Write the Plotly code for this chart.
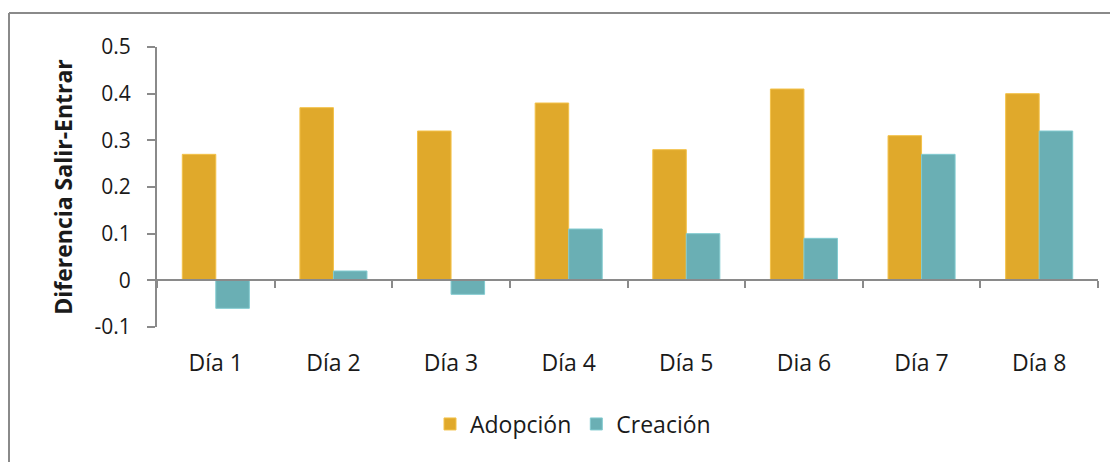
import plotly.graph_objects as go

categories = ["Día 1", "Día 2", "Día 3", "Día 4", "Día 5", "Dia 6", "Día 7", "Día 8"]
adopcion = [0.27, 0.37, 0.32, 0.38, 0.28, 0.41, 0.31, 0.40]
creacion = [-0.06, 0.02, -0.03, 0.11, 0.10, 0.09, 0.27, 0.32]
y_tickvals = [-0.1, 0, 0.1, 0.2, 0.3, 0.4, 0.5]
y_ticktext = ["-0.1", "0", "0.1", "0.2", "0.3", "0.4", "0.5"]

FONT = "Open Sans"
AXIS = "#8a8a8a"

fig = go.Figure()
fig.add_trace(go.Bar(
    x=categories, y=adopcion, name="Adopción",
    marker=dict(color="#E0A92B", line=dict(color="#F3C24A", width=1)),
))
fig.add_trace(go.Bar(
    x=categories, y=creacion, name="Creación",
    marker=dict(color="#6AAFB4", line=dict(color="#82CBD0", width=1)),
))

# page body has an 8px margin: figure coordinates are window coordinates minus 8
OFF = 8
W, H = 1118 - OFF, 462 - OFF
L, R, T, B = 157 - OFF, 20, 47 - OFF, 462 - 327
pw, ph = W - L - R, H - T - B

def px(xw):
    return (xw - OFF - L) / pw

def py(yw):
    return (H - B - (yw - OFF)) / ph

fig.update_layout(
    width=W, height=H,
    margin=dict(l=L, r=R, t=T, b=B, autoexpand=False),
    paper_bgcolor="white", plot_bgcolor="white",
    font=dict(family=FONT, size=22, color="#1a1a1a"),
    barmode="group", bargap=0.43, bargroupgap=0,
    showlegend=True,
    legend=dict(orientation="h", x=px(430), xanchor="left", y=py(424), yanchor="middle",
                font=dict(size=23, family=FONT), itemwidth=30, traceorder="normal"),
    xaxis=dict(
        type="category", range=[-0.5, 7.5], anchor="free", position=1/6,
        showline=True, linecolor=AXIS, linewidth=2,
        ticks="outside", tickson="boundaries", ticklen=7, tickwidth=2, tickcolor=AXIS,
        ticklabelstandoff=62, showgrid=False, zeroline=False, automargin=False,
        tickfont=dict(size=23, family=FONT),
    ),
    yaxis=dict(
        range=[-0.1, 0.5], tickvals=y_tickvals, ticktext=y_ticktext,
        showline=True, linecolor=AXIS, linewidth=2,
        ticks="outside", ticklen=8, tickwidth=2, tickcolor=AXIS,
        ticklabelstandoff=12, showgrid=False, zeroline=False, automargin=False,
        tickfont=dict(size=21, family=FONT),
        title=dict(text="<b>Diferencia Salir-Entrar</b>", font=dict(size=23, family=FONT), standoff=15),
    ),
    shapes=[
        dict(type="line", xref="paper", yref="paper", x0=px(9), x1=px(1125), y0=py(13), y1=py(13),
             line=dict(color=AXIS, width=2)),
        dict(type="line", xref="paper", yref="paper", x0=px(9), x1=px(9), y0=py(13), y1=py(470),
             line=dict(color=AXIS, width=2)),
    ],
)

fig.write_html("out.html")
